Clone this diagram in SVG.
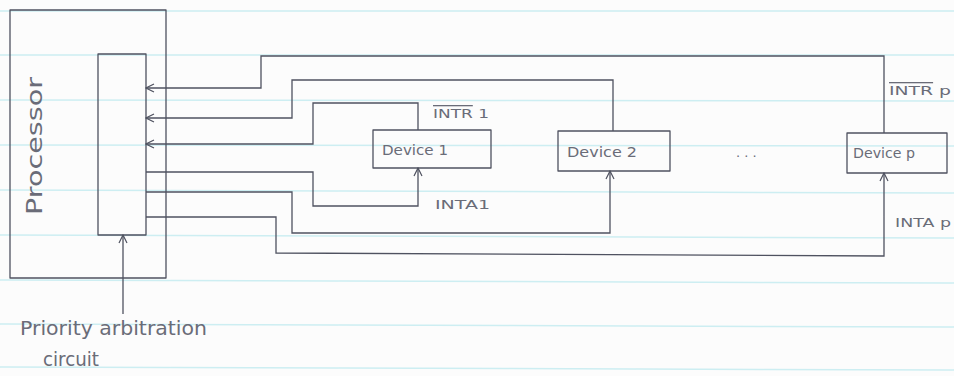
<svg xmlns="http://www.w3.org/2000/svg" width="954" height="376" viewBox="0 0 954 376">
<style>
.paper{stroke:#cdeef2;stroke-width:1.5}
.ink{fill:none;stroke:#4f5260;stroke-width:1.3;stroke-linejoin:round}
.wire{fill:none;stroke:#4f5260;stroke-width:1.3}
.lbl{font-family:"DejaVu Sans",sans-serif;fill:#6a6c78;font-size:13px}
.big{font-family:"DejaVu Sans",sans-serif;fill:#6a6c78;font-size:19px}
.dev{font-family:"DejaVu Sans",sans-serif;fill:#6a6c78;font-size:14px}
</style>
<defs>
<marker id="arr" markerWidth="10" markerHeight="10" refX="9" refY="5" orient="auto" markerUnits="userSpaceOnUse">
<path d="M1,1 L9,5 L1,9" fill="none" stroke="#4f5260" stroke-width="1.2"/>
</marker>
</defs>
<rect width="954" height="376" fill="#fcfcfc"/>
<g id="paper-lines">
<line class="paper" x1="0" y1="11" x2="954" y2="11"/>
<line class="paper" x1="0" y1="55" x2="954" y2="55"/>
<line class="paper" x1="0" y1="100" x2="954" y2="101"/>
<line class="paper" x1="0" y1="145" x2="954" y2="146"/>
<line class="paper" x1="0" y1="190" x2="954" y2="193"/>
<line class="paper" x1="0" y1="235" x2="954" y2="238"/>
<line class="paper" x1="0" y1="280" x2="954" y2="283"/>
<line class="paper" x1="0" y1="324" x2="954" y2="327"/>
<line class="paper" x1="0" y1="367" x2="954" y2="370"/>
</g>
<g id="processor">
<rect class="ink" x="10" y="10" width="156" height="268"/>
<text class="big" style="font-size:22px" transform="translate(42,146) rotate(-90)" text-anchor="middle" textLength="138" lengthAdjust="spacingAndGlyphs">Processor</text>
</g>
<g id="arbiter">
<rect class="ink" x="98" y="54" width="48" height="181"/>
</g>
<g id="device1">
<rect class="ink" x="373" y="130" width="118" height="38"/>
<text class="dev" x="382" y="155" textLength="66" lengthAdjust="spacingAndGlyphs">Device 1</text>
</g>
<g id="device2">
<rect class="ink" x="558" y="131" width="112" height="40"/>
<text class="dev" x="567" y="157" textLength="70" lengthAdjust="spacingAndGlyphs">Device 2</text>
</g>
<g id="devicep">
<rect class="ink" x="847" y="133" width="100" height="40"/>
<text class="dev" x="853" y="158" textLength="62" lengthAdjust="spacingAndGlyphs">Device p</text>
</g>
<g id="dots">
<text class="lbl" x="736" y="157">. . .</text>
</g>
<g id="connectors">
<polyline class="wire" points="884,133 884,56 261,56 261,88 146,88" marker-end="url(#arr)"/>
<polyline class="wire" points="613,131 613,80 292,80 292,118 146,118" marker-end="url(#arr)"/>
<polyline class="wire" points="418,130 418,103 313,103 313,144 146,144" marker-end="url(#arr)"/>
<polyline class="wire" points="146,172 313,172 313,206 418,206 418,168" marker-end="url(#arr)"/>
<polyline class="wire" points="146,192 292,192 292,233 610,233 610,171" marker-end="url(#arr)"/>
<polyline class="wire" points="146,217 276,217 276,253 884,256 884,173" marker-end="url(#arr)"/>
<polyline class="wire" points="123,314 123,235" marker-end="url(#arr)"/>
</g>
<g id="labels">
<text class="lbl" x="433" y="118" textLength="56" lengthAdjust="spacingAndGlyphs"><tspan text-decoration="overline">INTR</tspan> 1</text>
<text class="lbl" x="435" y="209" textLength="55" lengthAdjust="spacingAndGlyphs">INTA1</text>
<text class="lbl" x="889" y="95" textLength="62" lengthAdjust="spacingAndGlyphs"><tspan text-decoration="overline">INTR</tspan> p</text>
<text class="lbl" x="895" y="227" textLength="56" lengthAdjust="spacingAndGlyphs">INTA p</text>
<text class="big" x="20" y="335" textLength="187" lengthAdjust="spacingAndGlyphs">Priority arbitration</text>
<text class="big" x="43" y="366" textLength="56" lengthAdjust="spacingAndGlyphs">circuit</text>
</g>
</svg>
